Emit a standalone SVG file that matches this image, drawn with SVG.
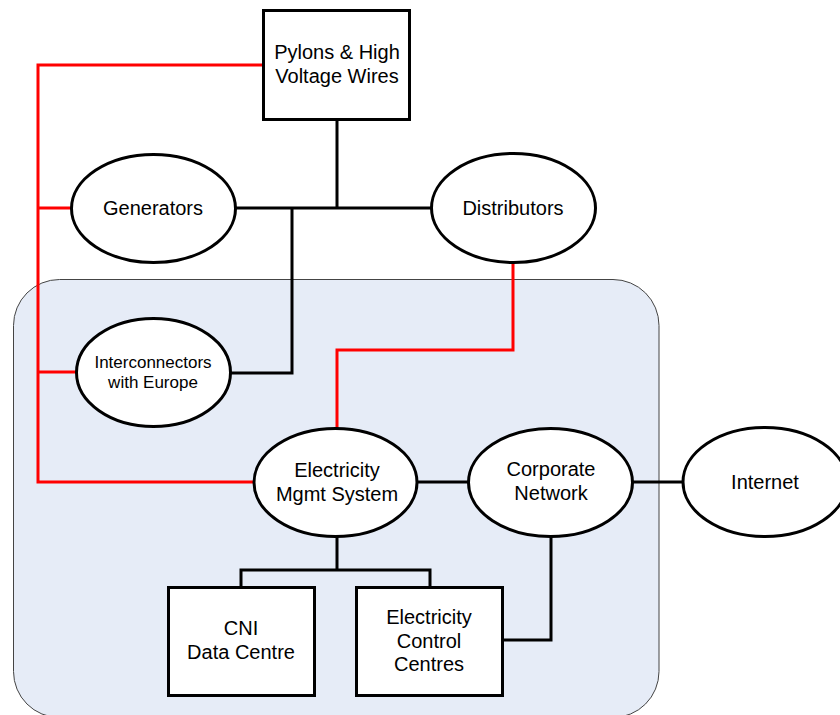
<svg xmlns="http://www.w3.org/2000/svg" width="840" height="715" viewBox="0 0 840 715">
<style>
.n{fill:#fff;stroke:#000;stroke-width:3}
.t{font-family:"Liberation Sans",Arial,sans-serif;font-size:20px;fill:#000;text-anchor:middle}
.s{font-size:17px}
.k{fill:none;stroke:#000;stroke-width:3}
.r{fill:none;stroke:#f00;stroke-width:3}
</style>
<rect width="840" height="715" fill="#fff"/>
<rect id="zone" x="13.5" y="279.5" width="645.5" height="438" rx="46" ry="46" fill="#E6ECF7" stroke="#444" stroke-width="1"/>
<g id="connectors">
<path class="r" d="M263 65 H38 V482 H255 M38 208 H72 M38 372 H77"/>
<path class="r" d="M513 263 V350 H337 V428"/>
<path class="k" d="M337 119 V208 M236 208 H431 M292 208 V373 H230"/>
<path class="k" d="M417 482 H468 M633 482 H683"/>
<path class="k" d="M337 537 V570 M241 587 V570 H430 V587"/>
<path class="k" d="M551 537 V640 H503"/>
</g>
<g id="pylons"><rect class="n" x="263.5" y="10.5" width="146" height="109"/>
<text class="t" x="337" y="59">Pylons &amp; High</text><text class="t" x="337" y="83">Voltage Wires</text></g>
<g id="generators"><ellipse class="n" cx="153.5" cy="208.5" rx="82" ry="54"/>
<text class="t" x="153" y="215">Generators</text></g>
<g id="distributors"><ellipse class="n" cx="513.5" cy="208" rx="82" ry="54.5"/>
<text class="t" x="513" y="215">Distributors</text></g>
<g id="interconnectors"><ellipse class="n" cx="153.5" cy="372.5" rx="77" ry="54"/>
<text class="t s" x="153" y="368">Interconnectors</text><text class="t s" x="153" y="388">with Europe</text></g>
<g id="ems"><ellipse class="n" cx="335.5" cy="482.5" rx="81.5" ry="54"/>
<text class="t" x="337" y="477">Electricity</text><text class="t" x="337" y="501">Mgmt System</text></g>
<g id="corporate"><ellipse class="n" cx="550.5" cy="482.5" rx="82" ry="54"/>
<text class="t" x="551" y="476">Corporate</text><text class="t" x="551" y="500">Network</text></g>
<g id="internet"><ellipse class="n" cx="765" cy="482" rx="82" ry="54.5"/>
<text class="t" x="765" y="489">Internet</text></g>
<g id="cni"><rect class="n" x="168.5" y="587.5" width="146" height="108"/>
<text class="t" x="241" y="635">CNI</text><text class="t" x="241" y="659">Data Centre</text></g>
<g id="ecc"><rect class="n" x="356.5" y="587.5" width="146" height="108"/>
<text class="t" x="429" y="624">Electricity</text><text class="t" x="429" y="648">Control</text><text class="t" x="429" y="671">Centres</text></g>
</svg>
